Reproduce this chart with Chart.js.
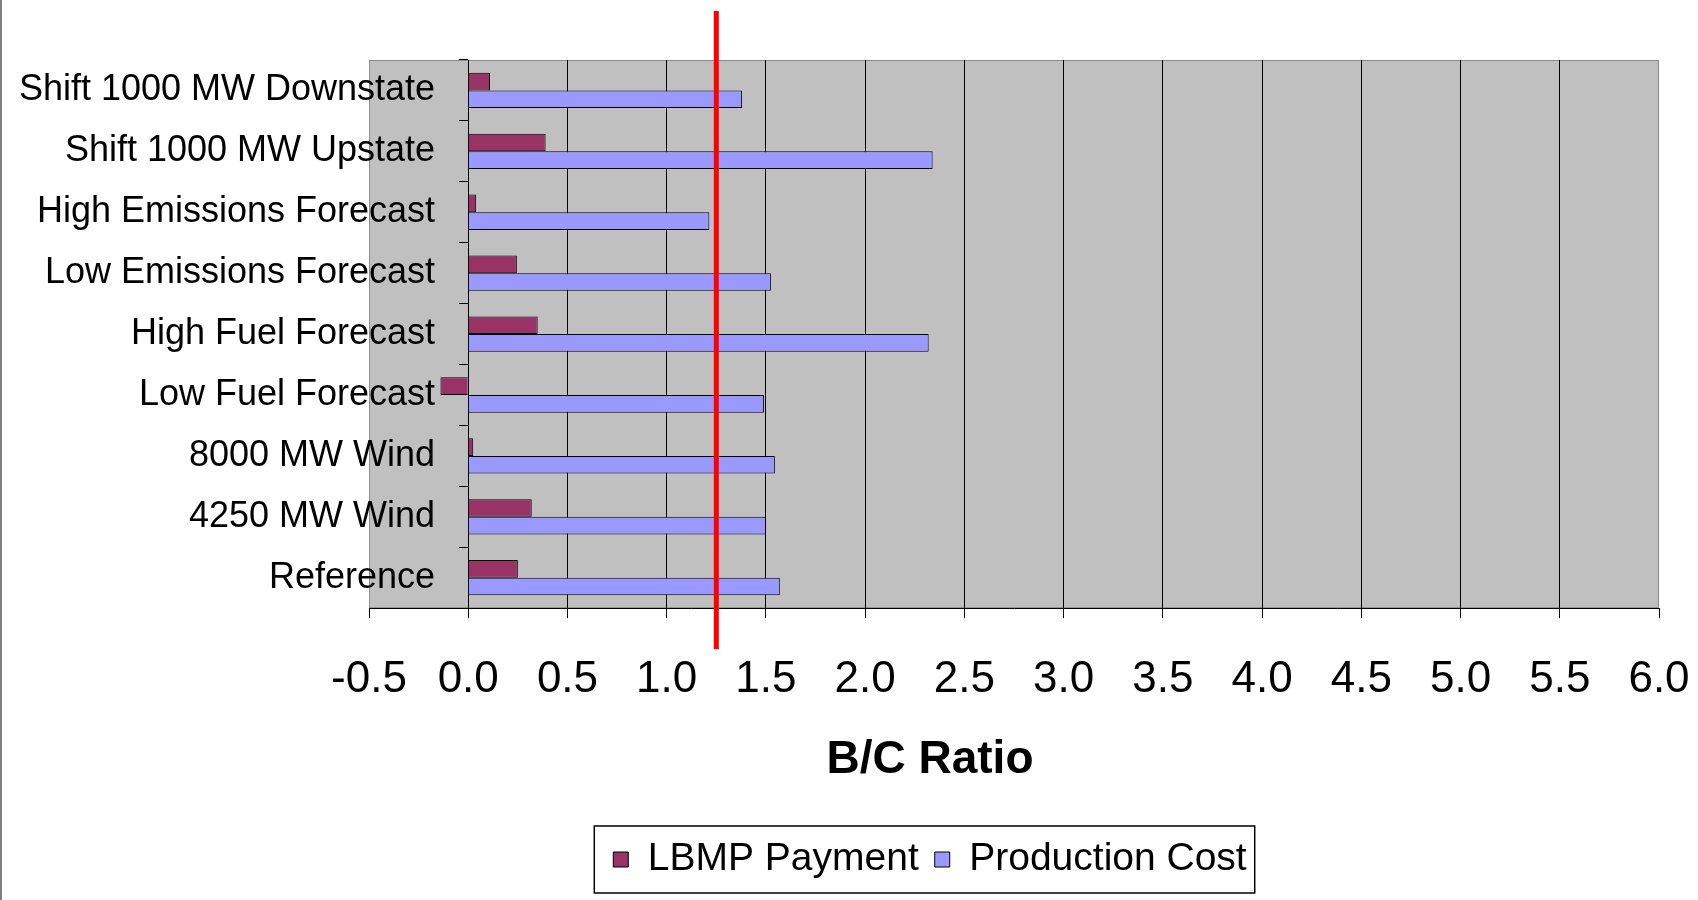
<!DOCTYPE html>
<html>
<head>
<meta charset="utf-8">
<script src="https://cdn.jsdelivr.net/npm/chart.js@4.4.1/dist/chart.umd.min.js"></script>
<style>
  html, body { margin: 0; padding: 0; background: #fff; }
  #wrap { width: 1698px; height: 900px; position: relative; }
</style>
</head>
<body>
<div id="wrap"><canvas id="myChart"></canvas></div>
<script>
// data
const categories = [
    'Shift 1000 MW Downstate',
    'Shift 1000 MW Upstate',
    'High Emissions Forecast',
    'Low Emissions Forecast',
    'High Fuel Forecast',
    'Low Fuel Forecast',
    '8000 MW Wind',
    '4250 MW Wind',
    'Reference',
];
const lbmpPayment = [0.11, 0.39, 0.04, 0.245, 0.35, -0.14, 0.025, 0.32, 0.25];
const productionCost = [1.38, 2.34, 1.215, 1.525, 2.32, 1.49, 1.545, 1.50, 1.57];
const xMin = -0.5;
const xMax = 6.0;
const xStep = 0.5;
const breakEven = 1.25;
// where the category names end, in B/C units (just left of the zero axis)
const labelEdge = -0.167;

Chart.defaults.font.family = "'Liberation Sans', Arial, sans-serif";
Chart.defaults.color = '#000';

// grey plot area + slide edge
const plotBackground = {
    id: 'plotBackground',
    beforeDraw(chart) {
        const { ctx, chartArea: a } = chart;
        ctx.save();
        ctx.fillStyle = '#c0c0c0';
        ctx.fillRect(a.left, a.top, a.right - a.left, a.bottom - a.top);
        ctx.strokeStyle = '#8c8c8c';
        ctx.lineWidth = 1;
        ctx.strokeRect(a.left + 0.5, a.top + 0.5, a.right - a.left - 1, a.bottom - a.top - 1);
        ctx.strokeStyle = '#000';
        ctx.beginPath();
        ctx.moveTo(1, 0);
        ctx.lineTo(1, chart.height);
        ctx.stroke();
        ctx.restore();
    }
};

// red B/C = 1.25 marker
const breakEvenLine = {
    id: 'breakEvenLine',
    afterDatasetsDraw(chart) {
        const { ctx, chartArea: a } = chart;
        const x = chart.scales.x.getPixelForValue(breakEven);
        ctx.save();
        ctx.strokeStyle = '#ff0000';
        ctx.lineWidth = 5;
        ctx.beginPath();
        ctx.moveTo(x, a.top - 49);
        ctx.lineTo(x, a.bottom + 41);
        ctx.stroke();
        ctx.restore();
    }
};

// frame round the legend
const legendFrame = {
    id: 'legendFrame',
    afterDraw(chart) {
        const boxes = chart.legend.legendHitBoxes;
        if (!boxes || !boxes.length) return;
        const left = Math.min(...boxes.map(b => b.left)) - 19;
        const right = Math.max(...boxes.map(b => b.left + b.width)) + 8;
        const top = Math.min(...boxes.map(b => b.top)) - 14;
        const bottom = Math.max(...boxes.map(b => b.top + b.height)) + 14;
        const ctx = chart.ctx;
        ctx.save();
        ctx.strokeStyle = '#000';
        ctx.lineWidth = 1.5;
        ctx.strokeRect(left, top, right - left, bottom - top);
        ctx.restore();
    }
};

const edgeGrid = (ctx) => {
    const v = ctx.tick && ctx.tick.value;
    return (v === xMin || v === xMax) ? 'rgba(0,0,0,0)' : '#000';
};

const config = {
    type: 'bar',
    data: {
        labels: categories,
        datasets: [{
            label: 'LBMP Payment',
            data: lbmpPayment,
            backgroundColor: '#993366',
            borderColor: '#000',
            borderWidth: 1,
            categoryPercentage: 0.58,
            barPercentage: 1.0
        }, {
            label: 'Production Cost',
            data: productionCost,
            backgroundColor: '#9999ff',
            borderColor: '#000',
            borderWidth: 1,
            categoryPercentage: 0.58,
            barPercentage: 1.0
        }]
    },
    options: {
        indexAxis: 'y',
        responsive: true,
        maintainAspectRatio: false,
        animation: false,
        layout: {
            padding: { left: 201, right: 39, top: 60, bottom: 11 }
        },
        scales: {
            x: {
                min: xMin,
                max: xMax,
                ticks: {
                    stepSize: xStep,
                    callback: (v) => Number(v).toFixed(1),
                    font: { size: 44, lineHeight: 2.56 },
                    padding: 5,
                    maxRotation: 0,
                    autoSkip: false
                },
                grid: {
                    color: edgeGrid,
                    tickColor: '#000',
                    tickLength: 10,
                    lineWidth: 1
                },
                border: { color: '#000', width: 1 }
            },
            // the bars' own axis, kept on the left as room for the names
            y: {
                position: 'left',
                afterFit(scale) { scale.width = 168; },
                grid: { display: false, drawTicks: false },
                border: { display: false },
                ticks: { display: false }
            },
            // category names, right-aligned just left of zero
            yNames: {
                type: 'category',
                position: { x: labelEdge },
                offset: true,
                grid: { display: false, drawTicks: false },
                border: { display: false },
                ticks: { font: { size: 36 } }
            },
            // vertical axis line at zero with its tick marks
            yAxisLine: {
                type: 'category',
                position: { x: 0 },
                offset: true,
                grid: {
                    offset: true,
                    drawOnChartArea: false,
                    tickLength: 9,
                    color: '#000'
                },
                border: { color: '#000', width: 1 },
                ticks: { display: false }
            }
        },
        plugins: {
            title: {
                display: true,
                text: 'B/C Ratio',
                position: 'bottom',
                weight: 500,
                font: { size: 46, weight: 'bold' },
                padding: { top: -8, bottom: 36 }
            },
            legend: {
                position: 'bottom',
                labels: {
                    boxWidth: 15,
                    boxHeight: 15,
                    padding: 16,
                    font: { size: 39 }
                }
            },
            tooltip: { enabled: false }
        }
    },
    plugins: [plotBackground, breakEvenLine, legendFrame]
};

const myChart = new Chart(document.getElementById('myChart'), config);
</script>
</body>
</html>
